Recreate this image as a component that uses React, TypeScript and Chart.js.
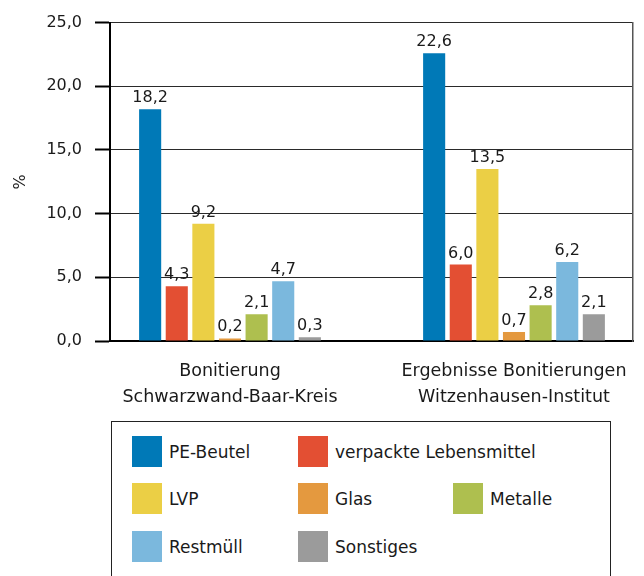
import React, { useEffect, useRef } from 'react';
import { Chart, registerables } from 'chart.js';

Chart.register(...registerables);

const categories: string[][] = [
  ['Bonitierung', 'Schwarzwand-Baar-Kreis'],
  ['Ergebnisse Bonitierungen', 'Witzenhausen-Institut'],
];
const seriesNames = ['PE-Beutel', 'verpackte Lebensmittel', 'LVP', 'Glas', 'Metalle', 'Restmüll', 'Sonstiges'];
const seriesColors = ['#0079B7', '#E34F33', '#EBCF45', '#E4993F', '#AEBF4F', '#7BB8DD', '#9B9B9B'];
const peBeutel = [18.2, 22.6];
const verpackteLebensmittel = [4.3, 6.0];
const lvp = [9.2, 13.5];
const glas = [0.2, 0.7];
const metalle = [2.1, 2.8];
const restmuell = [4.7, 6.2];
const sonstiges = [0.3, 2.1];
const seriesValues = [peBeutel, verpackteLebensmittel, lvp, glas, metalle, restmuell, sonstiges];
const yMin = 0;
const yMax = 25;
const yStep = 5;
const legendRows = [[0, 1], [2, 3, 4], [5, 6]];

const FONT = "'DejaVu Sans', sans-serif";
const TEXT = '#1a1a1a';
const fmt = (v: number) => v.toFixed(1).replace('.', ',');

const valueLabels = {
  id: 'valueLabels',
  afterDatasetsDraw(chart: any) {
    const ctx = chart.ctx;
    ctx.save();
    ctx.font = `16px ${FONT}`;
    ctx.fillStyle = TEXT;
    ctx.textAlign = 'center';
    ctx.textBaseline = 'alphabetic';
    chart.data.datasets.forEach((ds: any, i: number) => {
      const meta = chart.getDatasetMeta(i);
      meta.data.forEach((bar: any, j: number) => {
        ctx.fillText(fmt(seriesValues[i][j]), bar.x, bar.y - 7);
      });
    });
    ctx.restore();
  },
};

export default function App() {
  const ref = useRef<HTMLCanvasElement>(null);

  useEffect(() => {
    if (!ref.current) return;
    Chart.defaults.font.family = FONT;
    Chart.defaults.color = TEXT;
    const chart = new Chart(ref.current, {
      type: 'bar',
      data: {
        datasets: seriesNames.map((name, i) => ({
          label: name,
          data: seriesValues[i].map((v, j) => ({ x: j, y: v })),
          backgroundColor: seriesColors[i],
          borderWidth: 0,
          categoryPercentage: 0.656,
          barPercentage: 0.83,
        })),
      },
      options: {
        responsive: false,
        animation: false,
        devicePixelRatio: 1,
        layout: { padding: { top: 21, left: 0, right: 0, bottom: 0 } },
        plugins: { legend: { display: false }, tooltip: { enabled: false } },
        scales: {
          x: {
            type: 'linear',
            offset: false,
            min: -0.4225,
            max: 1.419,
            grid: { display: false, offset: false },
            border: { display: true, color: '#000', width: 2 },
            afterBuildTicks: (scale: any) => {
              scale.ticks = categories.map((_, i) => ({ value: i }));
            },
            afterFit: (scale: any) => {
              scale.height = 69;
            },
            ticks: {
              maxRotation: 0,
              autoSkip: false,
              padding: 9,
              font: { size: 17.5, lineHeight: 1.49 },
              color: TEXT,
              callback: (_v: any, index: number) => categories[index],
            },
          },
          y: {
            type: 'linear',
            position: 'left',
            min: yMin,
            max: yMax,
            afterFit: (scale: any) => {
              scale.width = 110;
            },
            ticks: {
              stepSize: yStep,
              padding: 13,
              font: { size: 16 },
              color: TEXT,
              callback: (v: any) => fmt(Number(v)),
            },
            grid: {
              color: '#2a2a2a',
              lineWidth: 1,
              tickColor: '#000',
              tickWidth: 2,
              tickLength: 15,
            },
            border: { display: true, color: '#000', width: 2 },
            title: {
              display: true,
              text: '%',
              font: { size: 16 },
              color: TEXT,
              padding: { top: 11, bottom: 0 },
            },
          },
          y2: {
            type: 'linear',
            position: 'right',
            afterFit: (scale: any) => {
              scale.width = 11;
            },
            ticks: { display: false },
            grid: { display: false },
            border: { display: true, color: '#555', width: 1.5 },
          },
        },
      } as any,
      plugins: [valueLabels],
    });
    return () => chart.destroy();
  }, []);

  const colLeft = [20, 186, 341];
  const rowTop = [14, 61, 109];

  return (
    <div style={{ position: 'fixed', left: 0, top: 0, width: 644, height: 576, overflow: 'hidden', background: '#fff' }}>
      <canvas ref={ref} width={644} height={410} style={{ display: 'block', width: 644, height: 410 }} />
      <div
        style={{
          position: 'absolute',
          left: 111,
          top: 421,
          width: 498,
          height: 180,
          border: '1.5px solid #222',
          fontFamily: FONT,
          fontSize: 17,
          color: TEXT,
        }}
      >
        {legendRows.map((row, r) =>
          row.map((si, c) => (
            <div
              key={si}
              style={{ position: 'absolute', left: colLeft[c], top: rowTop[r], height: 31, display: 'flex', alignItems: 'center', whiteSpace: 'nowrap' }}
            >
              <span style={{ display: 'inline-block', width: 30, height: 31, background: seriesColors[si], marginRight: 7 }} />
              <span>{seriesNames[si]}</span>
            </div>
          ))
        )}
      </div>
    </div>
  );
}
